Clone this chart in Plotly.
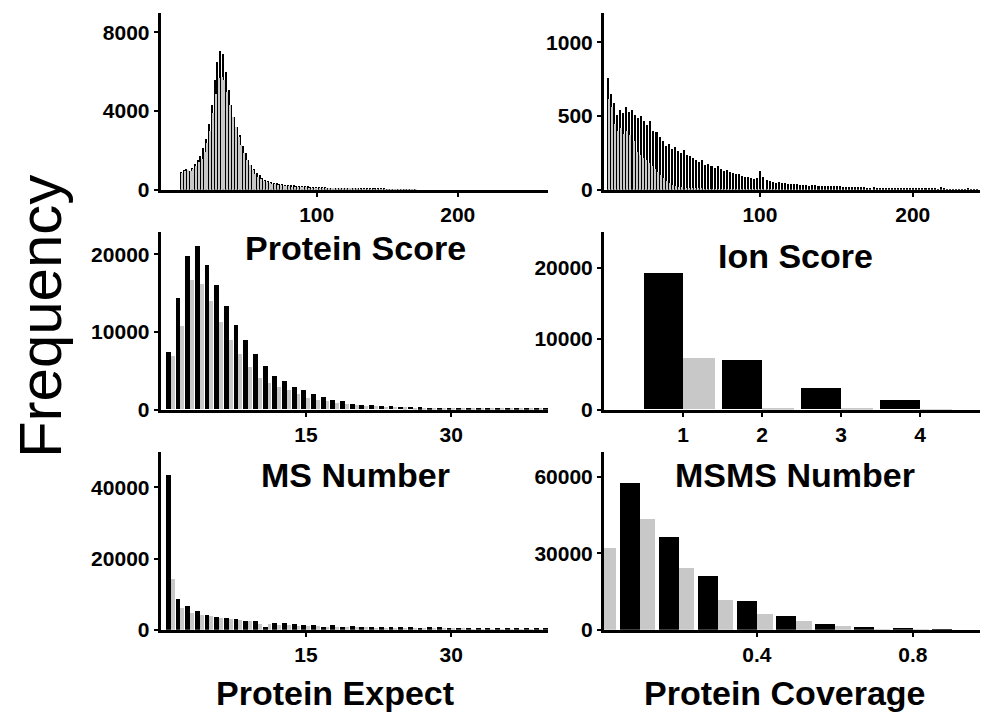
import plotly.graph_objects as go

# ---------------- data ----------------
# Protein Score (bin width 2)
score_bins = list(range(4, 172, 2))
score_black = [900, 1000, 1050, 980, 1120, 1300, 1500, 1750, 2150, 2600, 3350, 4300, 5600, 6500, 7050, 6900,
               6000, 5100, 4300, 3700, 3200, 2800, 2250, 1900, 1550, 1250, 1050, 880, 740, 600, 520, 470,
               420, 380, 340, 310, 290, 270, 260, 240, 230, 215, 210, 200, 195, 185, 175, 165, 160, 150,
               140, 130, 125, 120, 112, 108, 100, 95, 92, 88, 85, 82, 78, 75, 72, 70, 68, 65, 62, 60,
               56, 52, 50, 48, 45, 42, 40, 38, 36, 34, 32, 30, 28, 25]
score_grey = [850, 950, 1000, 950, 1050, 1200, 1400, 1600, 1950, 2400, 3000, 3900, 4900, 5700, 5750, 5600,
              5000, 4300, 3700, 3200, 2700, 2300, 1900, 1550, 1250, 1000, 820, 680, 560, 460, 400, 350,
              310, 280, 250, 230, 210, 195, 180, 170, 160, 150, 145, 140, 130, 125, 118, 110, 105, 100,
              95, 90, 85, 80, 76, 72, 68, 64, 60, 58, 55, 52, 50, 48, 45, 43, 41, 40, 38, 36,
              34, 32, 30, 28, 26, 25, 24, 22, 20, 19, 18, 17, 16, 15]

# Ion Score (bin width 2)
ion_bins = list(range(1, 245, 2))
ion_black = [760, 650, 590, 510, 540, 520, 560, 530, 545, 510, 490, 505, 470, 440, 470, 400,
             390, 360, 330, 300, 310, 280, 290, 265, 250, 270, 235, 230, 215, 200, 190, 205,
             170, 175, 160, 150, 165, 140, 130, 135, 120, 115, 105, 110, 95, 90, 85, 80,
             75, 80, 130, 90, 70, 60, 55, 50, 52, 45, 48, 40, 42, 38, 40, 35,
             33, 36, 30, 32, 34, 30, 28, 26, 30, 27, 25, 24, 26, 22, 20, 22,
             20, 18, 19, 17, 18, 16, 15, 17, 14, 15, 13, 14, 12, 13, 11, 12,
             10, 11, 10, 9, 10, 9, 8, 9, 8, 7, 8, 7, 6, 18, 7, 6,
             5, 6, 5, 4, 5, 4, 10, 4, 3, 4]
ion_grey = [620, 560, 450, 400, 420, 380, 400, 370, 330, 260, 240, 220, 200, 180, 160, 140,
            120, 100, 80, 60, 45, 35, 28, 22, 18, 15, 12, 10, 9, 8, 7, 6,
            5, 5, 4, 4, 3, 3, 3, 2, 2, 2, 2, 2, 1, 1, 1, 1,
            1, 1, 1, 1, 1, 1, 1, 1, 0, 0, 0, 0, 0, 0, 0, 0,
            0, 0, 0, 0, 0, 0, 0, 0, 0, 0, 0, 0, 0, 0, 0, 0,
            0, 0, 0, 0, 0, 0, 0, 0, 0, 0, 0, 0, 0, 0, 0, 0,
            0, 0, 0, 0, 0, 0, 0, 0, 0, 0, 0, 0, 0, 0, 0, 0,
            0, 0, 0, 0, 0, 0, 0, 0, 0, 0]

# MS Number (bin width 1)
ms_bins = list(range(1, 41))
ms_black = [7370, 14280, 19700, 21060, 18520, 15970, 13260, 10890, 8860, 7080, 5510, 4240, 3690, 2920,
            2420, 1910, 1570, 1140, 1020, 720, 590, 510, 420, 380, 300, 300, 250, 220, 200, 180,
            160, 150, 130, 120, 110, 100, 90, 80, 70, 60]
ms_grey = [6860, 10680, 16610, 16060, 13940, 11190, 8860, 7080, 5470, 4030, 3390, 2920, 2420, 1990,
           1480, 1230, 1020, 850, 650, 520, 430, 380, 320, 280, 250, 220, 190, 170, 150, 130,
           120, 110, 100, 90, 80, 70, 60, 50, 45, 40]

# MSMS Number
msms_bins = [1, 2, 3, 4]
msms_black = [19200, 6930, 3040, 1310]
msms_grey = [7170, 230, 40, 20]

# Protein Expect (bin width 1)
exp_bins = list(range(1, 41))
exp_black = [43640, 8690, 6730, 5510, 4200, 3740, 3460, 3080, 2620, 2620, 930, 2150, 2150, 1780,
             1590, 1590, 930, 1590, 930, 1120, 1050, 1000, 950, 900, 880, 850, 500, 820, 780, 700,
             750, 650, 680, 600, 620, 550, 560, 500, 520, 700]
exp_grey = [14490, 6360, 4950, 4390, 3930, 3550, 3270, 2800, 2600, 1870, 1680, 1500, 1400, 1300,
            1200, 1100, 1000, 950, 900, 850, 800, 750, 700, 680, 650, 620, 600, 580, 550, 520,
            500, 480, 460, 440, 420, 400, 380, 360, 340, 320]

# Protein Coverage (bin width 0.1)
cov_bins = [0.0, 0.1, 0.2, 0.3, 0.4, 0.5, 0.6, 0.7, 0.8, 0.9]
cov_black = [0, 57790, 36620, 21300, 11300, 5710, 2600, 1430, 780, 650]
cov_grey = [32340, 43770, 24550, 11950, 6490, 3510, 1560, 650, 300, 100]

titles = ["Protein Score", "Ion Score", "MS Number", "MSMS Number", "Protein Expect", "Protein Coverage"]

# ---------------- layout helpers ----------------
W, H = 985, 726
def px(x):
    return x / W
def py(y):
    return 1 - y / H

xdom = {"L": [px(160.7), px(548)], "R": [px(604), px(980)]}
ydom = {0: [py(192.7), py(13)], 1: [py(416), py(236)], 2: [py(639.5), py(458.5)]}

panels = [
    ("L", 0, score_bins, score_black, score_grey, 2, [-10.6, 264], [0, 9000], [100, 200], [0, 4000, 8000],
     ["0", "4000", "8000"], titles[0], (355, 252)),
    ("R", 0, ion_bins, ion_black, ion_grey, 2, [-2, 244], [0, 1200], [100, 200], [0, 500, 1000],
     ["0", "500", "1000"], titles[1], (795, 260)),
    ("L", 1, ms_bins, ms_black, ms_grey, 1, [0, 40], [0, 22800], [15, 30], [0, 10000, 20000],
     ["0", "10000", "20000"], titles[2], (355, 482)),
    ("R", 1, msms_bins, msms_black, msms_grey, 1, [0, 4.76], [0, 25000], [1, 2, 3, 4], [0, 10000, 20000],
     ["0", "10000", "20000"], titles[3], (795, 482)),
    ("L", 2, exp_bins, exp_black, exp_grey, 1, [0, 40], [0, 50000], [15, 30], [0, 20000, 40000],
     ["0", "20000", "40000"], titles[4], (335, 704)),
    ("R", 2, cov_bins, cov_black, cov_grey, 0.1, [0.008, 0.972], [0, 70000], [0.4, 0.8], [0, 30000, 60000],
     ["0", "30000", "60000"], titles[5], (785, 704)),
]

fig = go.Figure()
tickfont = dict(family="Liberation Sans, Arial, sans-serif", size=21, color="black", weight="bold")
annotations = []
for i, (col, row, bins, blk, gry, bw, xr, yr, xt, yt, ytxt, title, txy) in enumerate(panels):
    n = i + 1
    xa = "x" if n == 1 else f"x{n}"
    ya = "y" if n == 1 else f"y{n}"
    fig.add_trace(go.Bar(x=bins, y=blk, width=0.5 * bw, offset=-0.5 * bw,
                         marker=dict(color="black", line=dict(width=0)),
                         xaxis=xa, yaxis=ya, showlegend=False))
    fig.add_trace(go.Bar(x=bins, y=gry, width=0.4 * bw, offset=0,
                         marker=dict(color="#c8c8c8", line=dict(width=0)),
                         xaxis=xa, yaxis=ya, showlegend=False))
    xkey = "xaxis" if n == 1 else f"xaxis{n}"
    ykey = "yaxis" if n == 1 else f"yaxis{n}"
    fig.update_layout(**{
        xkey: dict(domain=xdom[col], anchor=ya, range=xr, showgrid=False, zeroline=False,
                   showline=True, linecolor="black", linewidth=3, ticks="outside", ticklen=4, tickwidth=2,
                   tickcolor="black", tickvals=xt, tickfont=tickfont),
        ykey: dict(domain=ydom[row], anchor=xa, range=yr, showgrid=False, zeroline=False,
                   showline=True, linecolor="black", linewidth=3, ticks="outside", ticklen=4, tickwidth=2,
                   tickcolor="black", tickvals=yt, ticktext=ytxt, tickfont=tickfont),
    })
    annotations.append(dict(text=title, x=px(txy[0]), y=py(txy[1]), xref="paper", yref="paper",
                            showarrow=False, xanchor="center", yanchor="middle",
                            font=dict(family="Liberation Sans, Arial, sans-serif", size=34, color="black",
                                      weight="bold")))

annotations.append(dict(text="Frequency", x=px(40), y=py(322), xref="paper", yref="paper", showarrow=False,
                        textangle=-90, xanchor="center", yanchor="middle",
                        font=dict(family="Liberation Sans, Arial, sans-serif", size=60, color="black")))

fig.update_layout(width=W, height=H, margin=dict(l=0, r=0, t=0, b=0), barmode="overlay", bargap=0,
                  plot_bgcolor="white", paper_bgcolor="white", annotations=annotations)

fig.write_html("out.html", config={"displayModeBar": False},
               post_script="document.body.style.margin='0';document.body.style.overflow='hidden';")
